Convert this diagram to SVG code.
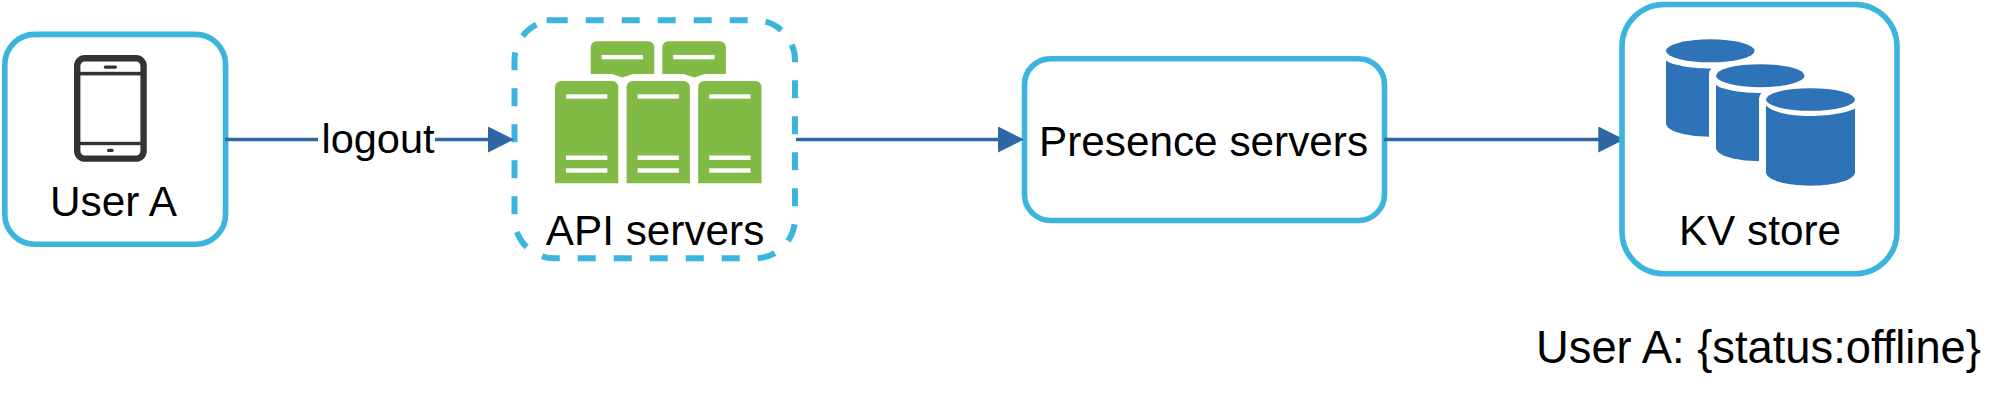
<svg xmlns="http://www.w3.org/2000/svg" width="2016" height="408" viewBox="0 0 2016 408">
<style>
text{font-family:"Liberation Sans",Arial,sans-serif;font-size:42.300px;fill:#000;text-anchor:middle}
.box{fill:#fff;stroke:#3cb5de;stroke-width:5.6}
.dash{fill:none;stroke:#3cb5de;stroke-width:6;stroke-dasharray:18 18}
.conn{fill:none;stroke:#2d68a4;stroke-width:3.400;marker-end:url(#arrow)}
.plain{fill:none;stroke:#2d68a4;stroke-width:3.400}
.srv{fill:#81ba44}
.bar{fill:#fff}
.db{fill:#2e72b8}
.ph{fill:#333}
</style>
<defs>
<marker id="arrow" markerUnits="userSpaceOnUse" markerWidth="26" markerHeight="26" viewBox="0 0 26 26" refX="16" refY="13" orient="auto"><path d="M0 0L26 13L0 26Z" fill="#2d68a4"/></marker>
<g id="server"><path class="srv" d="M555 183.300V87a6 6 0 0 1 6-6H612.300a6 6 0 0 1 6 6V183.300Z"/><rect class="bar" x="566" y="94.300" width="41.300" height="4.400"/><rect class="bar" x="566" y="155.500" width="41.300" height="4.400"/><rect class="bar" x="566" y="168.300" width="41.300" height="4.400"/></g>
<g id="tray"><path class="srv" d="M590.700 74V47.300a6 6 0 0 1 6-6H648.300a6 6 0 0 1 6 6V74H633L622.500 77.500L612 74Z"/><rect class="bar" x="601.700" y="54.900" width="41.300" height="4.400"/></g>
<path id="dbback" class="db" d="M1666 60.500C1672 65 1690 68.500 1711.500 68.500Q1709 70.500 1709 74V136.800C1684 136 1666 131 1666 123Z"/>
</defs>
<g id="user-a">
<rect class="box" x="4.800" y="34.400" width="220.800" height="209.800" rx="30"/>
<rect x="77.200" y="58.200" width="66.400" height="100.400" rx="7.500" fill="none" stroke="#333" stroke-width="6.400"/>
<rect class="ph" x="77" y="71.800" width="67" height="3.600"/>
<rect class="ph" x="77" y="141.800" width="67" height="3.400"/>
<rect class="ph" x="103.700" y="65.500" width="13.300" height="3.200" rx="1.600"/>
<rect class="ph" x="107" y="148.700" width="6.700" height="3.300" rx="1.600"/>
<text x="113.500" y="215.500">User A</text>
</g>
<g id="api-servers">
<path class="dash" d="M549.700 20.300H755A40 40 0 0 1 795 60.300V218.300A40 40 0 0 1 755 258.300H554.500A40 40 0 0 1 514.500 218.300V60.300A40 40 0 0 1 554.500 20.300H549.700M546.700 20.300H549.700"/>
<use href="#tray"/>
<use href="#tray" x="71.600"/>
<use href="#server"/>
<use href="#server" x="71.600"/>
<use href="#server" x="143.200"/>
<text x="655" y="245">API servers</text>
</g>
<g id="presence-servers">
<rect class="box" x="1024.500" y="58.700" width="360" height="161.800" rx="26"/>
<text x="1203.500" y="155.700">Presence servers</text>
</g>
<g id="connectors">
<line class="plain" x1="225" y1="139.500" x2="318" y2="139.500"/>
<line class="conn" x1="435" y1="139.500" x2="504" y2="139.500"/>
<line class="conn" x1="796" y1="139.500" x2="1014" y2="139.500"/>
<line class="conn" x1="1384" y1="139.500" x2="1614.300" y2="139.500"/>
<text x="378" y="152.700" style="font-size:41.500px">logout</text>
</g>
<g id="kv-store">
<rect class="box" x="1622" y="4.500" width="275" height="269.200" rx="42"/>
<ellipse class="db" cx="1710.300" cy="50.800" rx="44.300" ry="11.500"/>
<use href="#dbback"/>
<ellipse class="db" cx="1760.300" cy="75.700" rx="44.300" ry="11.500"/>
<use href="#dbback" x="50" y="24.500"/>
<ellipse class="db" cx="1810.500" cy="99.500" rx="44.500" ry="11.300"/>
<path class="db" d="M1766 105.500C1772 112 1790 116 1810.500 116S1849 112 1855 108.500V172.300C1855 180 1835 185.700 1810.500 185.700S1766 180 1766 172.300Z"/>
<text x="1760" y="245">KV store</text>
</g>
<g id="status-note">
<text x="1758.500" y="362.700" style="font-size:45.300px">User A: {status:offline}</text>
</g>
</svg>
